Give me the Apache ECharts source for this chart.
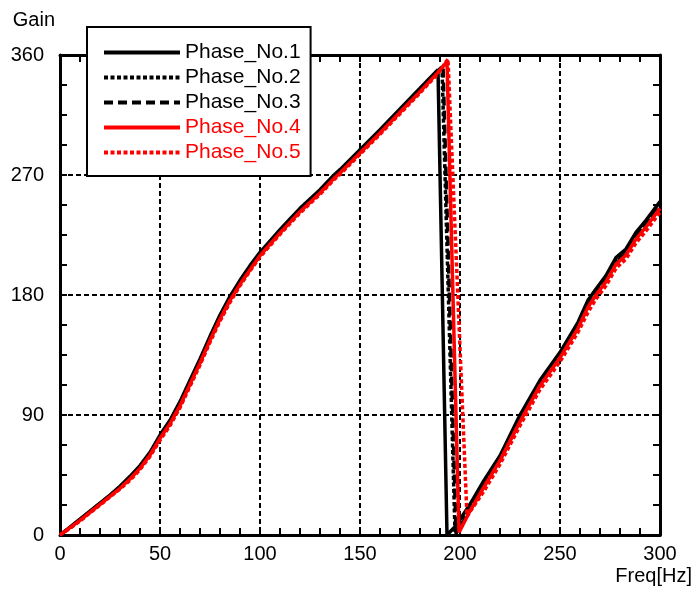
<!DOCTYPE html>
<html><head><meta charset="utf-8">
<script src="https://cdn.jsdelivr.net/npm/echarts@6/dist/echarts.min.js"></script>
<style>html,body{margin:0;padding:0;background:#fff}#c{width:697px;height:592px}</style>
</head><body><div id="c"></div>
<script>
const seriesNames = ['Phase_No.1','Phase_No.2','Phase_No.3','Phase_No.4','Phase_No.5'];
const xTicks = [0, 50, 100, 150, 200, 250, 300];
const yTicks = [0, 90, 180, 270, 360];

const freq1  = [0,5,10,15,20,25,30,35,40,45,50,55,60,65,70,75,80,85,90,95,100,110,115,120,130,137,140,150,160,170,180,189,193.5,198,205,212,220,230,240,250,259,264,268,273,278,283,288,293,300];
const phase1 = [0,6,12,18,24,30,36.5,44,52,62,75,86,100,116,132,149,165,179,191,202,212,229,237,245,259,270,274,289,304,319.5,335,349,0,7,23,41,59.5,90,116,137,159.5,176,184.5,194.5,208,214.5,227,236,250];

const freq2  = [0,5,10,15,20,25,30,35,40,45,50,55,60,65,70,75,80,85,90,95,100,110,115,120,130,137,140,150,160,170,180,191,197.5,205,212,220,230,240,250,259,264,268,273,278,283,288,293,300];
const phase2 = [0,5.5,11.5,17.5,23.5,29.5,36,43,51,61,73.5,84.5,98,114,130,147,163,177,189,200,210.5,227.5,235.5,243.5,257.5,268.5,272.5,287.5,302.5,318,333.5,351,2,20,38,57,87,113.5,135,157,173,182,192,205.5,212,224.5,233.5,247.5];

const freq3  = [0,5,10,15,20,25,30,35,40,45,50,55,60,65,70,75,80,85,90,95,100,110,115,120,130,137,140,150,160,170,180,191.5,198,205,212,220,230,240,250,259,264,268,273,278,283,288,293,300];
const phase3 = [0,5.5,11.5,17.5,23.5,29.5,36,43,51,61,73.5,84.5,98,114,130,147,163,177,189,200,210.5,227.5,235.5,243.5,257.5,268.5,272.5,287.5,302.5,318,333.5,352,1,19,37,56,86,113,134,156,172,181,191,204.5,211.5,224,233,247];

const freq4  = [0,5,10,15,20,25,30,35,40,45,50,55,60,65,70,75,80,85,90,95,100,110,115,120,130,137,140,150,160,170,180,189,193.5,199.5,205,212,220,230,240,250,259,264,268,273,278,283,288,293,300];
const phase4 = [0,5.5,11,17,23,29,35,42,50,60,72.5,83.5,97,113,129,146,162,176,188,199,209.5,226.5,234.5,242.5,256.5,267.5,271.5,286.5,301.5,317,332.5,347,355,2,18,36,56,85,112,133,155,171,180,190,203,210,222,231,245];

const freq5  = [0,5,10,15,20,25,30,35,40,45,50,55,60,65,70,75,80,85,90,95,100,110,115,120,130,137,140,150,160,170,180,189,194,203.5,212,220,230,240,250,259,264,268,273,278,283,288,293,300];
const phase5 = [0,5,10.5,16.5,22.5,28.5,34.5,41,49,59,71,82,95.5,111.5,127.5,144.5,160.5,174.5,187,198,208.5,225.5,233.5,241.5,255.5,266.5,270.5,285.5,300.5,316,331.5,346,357,14,33,53,82,109,130,152,167,177,187,200,207,219,228,242];

const seriesColors = ['#000000','#000000','#000000','#ff0000','#ff0000'];
const seriesDash = ['solid',[4,2.5],[9,5],'solid',[4,2.5]];

const freqs = [freq1,freq2,freq3,freq4,freq5];
const phases = [phase1,phase2,phase3,phase4,phase5];
const FONT = '"Liberation Sans", Arial, Helvetica, sans-serif';

const chart = echarts.init(document.getElementById('c'), null, {renderer:'canvas'});
const frameLine = {show:true, onZero:false, lineStyle:{color:'#000', width:3}};
const tick = {show:true, inside:true, length:7, lineStyle:{color:'#000', width:2}};
const minorTick = {show:true, length:7, lineStyle:{color:'#000', width:2}};
const gridLine = {show:true, lineStyle:{color:'#000', width:2, type:[5,3]}};

chart.setOption({
  animation:false,
  backgroundColor:'#fff',
  grid:{left:60, right:37, top:55, bottom:57, containLabel:false},
  legend:{
    orient:'vertical', left:87, top:27,
    backgroundColor:'#fff', borderColor:'#000', borderWidth:2, borderRadius:0,
    padding:[15,10,13,15], itemWidth:76, itemHeight:14, itemGap:4,
    itemStyle:{color:'rgba(0,0,0,0)', borderWidth:0, opacity:0},
    lineStyle:{width:4},
    textStyle:{fontSize:21, fontFamily:FONT, color:'#000', lineHeight:21},
    data: seriesNames.map((n,i)=>({name:n, textStyle:{color:seriesColors[i]}}))
  },
  xAxis:[{
    type:'value', min:xTicks[0], max:xTicks[xTicks.length-1], interval:50,
    position:'bottom',
    axisLine:frameLine, axisTick:tick, minorTick:Object.assign({splitNumber:5},minorTick),
    splitLine:gridLine,
    axisLabel:{fontSize:20, fontFamily:FONT, color:'#000', margin:9},
    name:'Freq[Hz]', nameLocation:'end', nameGap:32,
    nameTextStyle:{fontSize:20, fontFamily:FONT, color:'#000', align:'right', verticalAlign:'top', padding:[31,0,0,0]}
  },{
    type:'value', min:xTicks[0], max:xTicks[xTicks.length-1], interval:50,
    position:'top',
    axisLine:frameLine, axisTick:tick, minorTick:Object.assign({splitNumber:5},minorTick),
    splitLine:{show:false}, axisLabel:{show:false}
  }],
  yAxis:[{
    type:'value', min:yTicks[0], max:yTicks[yTicks.length-1], interval:90,
    position:'left',
    axisLine:frameLine, axisTick:tick, minorTick:Object.assign({splitNumber:4},minorTick),
    splitLine:gridLine,
    axisLabel:{fontSize:20, fontFamily:FONT, color:'#000', margin:16},
    name:'Gain', nameLocation:'end', nameGap:25,
    nameTextStyle:{fontSize:20, fontFamily:FONT, color:'#000', align:'right', padding:[0,5,0,0]}
  },{
    type:'value', min:yTicks[0], max:yTicks[yTicks.length-1], interval:90,
    position:'right',
    axisLine:frameLine, axisTick:tick, minorTick:Object.assign({splitNumber:4},minorTick),
    splitLine:{show:false}, axisLabel:{show:false}
  }],
  series: seriesNames.map((n,i)=>({
    name:n, type:'line', symbol:'none', showSymbol:false,
    smooth:false,
    xAxisIndex:0, yAxisIndex:0,
    data: freqs[i].map((f,k)=>[f, phases[i][k]]),
    lineStyle:{color:seriesColors[i], width:3.5, type:seriesDash[i]},
    itemStyle:{color:seriesColors[i]},
    z: 2+i
  }))
});
</script></body></html>
